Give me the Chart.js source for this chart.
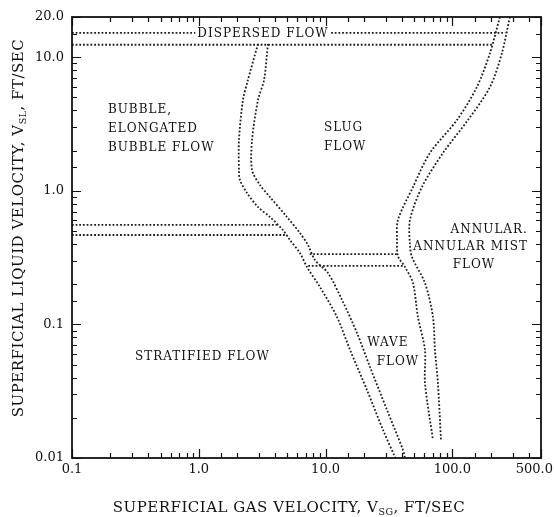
<!DOCTYPE html>
<html><head><meta charset="utf-8">
<script src="https://cdn.jsdelivr.net/npm/chart.js@4.4.0/dist/chart.umd.min.js"></script>
<style>html,body{margin:0;padding:0;background:#fff}#wrap{width:554px;height:517px}</style>
</head><body><div id="wrap"><canvas id="c" width="554" height="517"></canvas></div>
<script>
// Tick values and labels
const xMajorTicks = [0.1, 1, 10, 100, 500];
const xTickLabels = ['0.1', '1.0', '10.0', '100.0', '500.0'];
const yMajorTicks = [0.01, 0.1, 1, 10, 20];
const yTickLabels = ['0.01', '0.1', '1.0', '10.0', '20.0'];

// Boundary bands: [gas velocity, liquid velocity] pairs
const dispersedUpper = [[0.1, 15.2], [262, 15.2]];
const dispersedLower = [[0.1, 12.4], [206, 12.4]];
const stratifiedUpper = [[0.1, 0.555], [4.2, 0.555]];
const stratifiedLower = [[0.1, 0.467], [4.9, 0.467]];
const bubbleWaveLeft = [[2.93, 12.56], [2.44, 6.75], [2.23, 4.78], [2.075, 2.40], [2.075, 1.43], [2.11, 1.205], [2.40, 0.963], [2.93, 0.756], [3.64, 0.637], [4.61, 0.509], [5.24, 0.428], [6.28, 0.342], [7.13, 0.269], [9.03, 0.1905], [12.3, 0.1136], [15.6, 0.0643], [21.2, 0.0323], [28.4, 0.0162], [35.5, 0.01]];
const bubbleWaveRight = [[3.51, 12.56], [3.27, 6.75], [2.93, 4.78], [2.63, 2.40], [2.63, 1.43], [3.04, 1.105], [3.64, 0.899], [4.96, 0.637], [6.28, 0.483], [7.26, 0.393], [8.25, 0.303], [10.44, 0.243], [13.5, 0.152], [17.7, 0.0862], [22.4, 0.048], [30.5, 0.0229], [40.8, 0.01148], [42.3, 0.01]];
const slugWaveUpper = [[7.5, 0.336], [37, 0.336]];
const slugWaveLower = [[7.3, 0.274], [42, 0.274]];
const annularLeft = [[237, 20], [198, 10.75], [156, 5.98], [108.7, 3.39], [66.5, 1.92], [48.9, 1.067], [37.2, 0.605], [36.6, 0.428], [37.2, 0.325], [42.3, 0.269], [48.9, 0.204], [53.5, 0.1136], [60.8, 0.0643], [60.8, 0.0364], [70.3, 0.01364]];
const annularRight = [[284, 20], [246, 10.75], [198, 5.98], [132.7, 3.39], [84.3, 1.92], [57.5, 1.067], [46.3, 0.605], [46.3, 0.393], [48, 0.319], [60.8, 0.204], [70.3, 0.1136], [72.9, 0.0643], [76.9, 0.0364], [81.3, 0.01364]];

const bands = [dispersedUpper, dispersedLower, stratifiedUpper, stratifiedLower, bubbleWaveLeft, bubbleWaveRight, slugWaveUpper, slugWaveLower, annularLeft, annularRight];

const SERIF = '"DejaVu Serif", "Liberation Serif", serif';

const datasets = bands.map(b => ({
  data: b.map(([x, y]) => ({x, y})),
  borderColor: '#1e1e1e',
  borderWidth: 1.8,
  borderDash: [1.8, 1.9],
  pointRadius: 0,
  tension: 0.3,
  fill: false
}));

function isMajor(list, v) { return list.findIndex(m => Math.abs(m - v) / m < 1e-6); }

const decor = {
  id: 'decor',
  afterDatasetsDraw(chart) {
    const {ctx, chartArea: a, scales: {x, y}} = chart;
    ctx.save();
    ctx.strokeStyle = '#111';
    ctx.lineWidth = 1.2;
    x.ticks.forEach(t => {
      const px = Math.round(x.getPixelForValue(t.value)) + 0.5;
      const len = isMajor(xMajorTicks, t.value) >= 0 ? 9 : 5;
      ctx.beginPath();
      ctx.moveTo(px, a.bottom); ctx.lineTo(px, a.bottom - len);
      ctx.moveTo(px, a.top); ctx.lineTo(px, a.top + len);
      ctx.stroke();
    });
    y.ticks.forEach(t => {
      const py = Math.round(y.getPixelForValue(t.value)) + 0.5;
      const len = isMajor(yMajorTicks, t.value) >= 0 ? 9 : 5;
      ctx.beginPath();
      ctx.moveTo(a.left, py); ctx.lineTo(a.left + len, py);
      ctx.moveTo(a.right, py); ctx.lineTo(a.right - len, py);
      ctx.stroke();
    });
    ctx.lineWidth = 1.8;
    ctx.strokeRect(a.left, a.top, a.right - a.left, a.bottom - a.top);

    // X tick labels (last one kept inside the canvas)
    ctx.fillStyle = '#111';
    ctx.font = '13px ' + SERIF;
    ctx.textBaseline = 'middle';
    xMajorTicks.forEach((v, i) => {
      let px = x.getPixelForValue(v);
      ctx.textAlign = 'center';
      if (i === xMajorTicks.length - 1) { ctx.textAlign = 'right'; px = chart.width - 1; }
      ctx.fillText(xTickLabels[i], px, a.bottom + 12);
    });

    // Region labels
    ctx.font = '12px ' + SERIF;
    ctx.letterSpacing = '1px';
    const put = (txt, xv, yv, align) => {
      ctx.textAlign = align;
      ctx.fillText(txt, x.getPixelForValue(xv), y.getPixelForValue(yv));
    };
    {
      const px = x.getPixelForValue(3.21), py = y.getPixelForValue(14.9);
      const w = ctx.measureText('DISPERSED FLOW').width;
      ctx.fillStyle = '#fff';
      ctx.fillRect(px - w / 2 - 2, py - 7, w + 4, 14);
      ctx.fillStyle = '#111';
      put('DISPERSED FLOW', 3.21, 14.9, 'center');
    }
    put('BUBBLE,', 0.192, 4.03, 'left');
    put('ELONGATED', 0.192, 2.90, 'left');
    put('BUBBLE FLOW', 0.192, 2.08, 'left');
    put('SLUG', 9.7, 2.95, 'left');
    put('FLOW', 9.7, 2.13, 'left');
    put('ANNULAR.', 394, 0.509, 'right');
    put('ANNULAR MIST', 394, 0.379, 'right');
    put('FLOW', 148, 0.279, 'center');
    put('WAVE', 31.0, 0.0726, 'center');
    put('FLOW', 37.2, 0.0524, 'center');
    put('STRATIFIED FLOW', 0.314, 0.057, 'left');

    // Axis titles with subscripts
    ctx.letterSpacing = '0.5px';
    const drawTitle = (pre, sub, post, cx, cy, rot) => {
      ctx.save();
      ctx.translate(cx, cy);
      if (rot) ctx.rotate(-Math.PI / 2);
      const big = '15px ' + SERIF, small = '9.5px ' + SERIF;
      ctx.font = big; const w1 = ctx.measureText(pre).width; const w3 = ctx.measureText(post).width;
      ctx.font = small; const w2 = ctx.measureText(sub).width;
      let sx = -(w1 + w2 + w3) / 2;
      ctx.textAlign = 'left'; ctx.textBaseline = 'alphabetic';
      ctx.font = big; ctx.fillText(pre, sx, 5); sx += w1;
      ctx.font = small; ctx.fillText(sub, sx, 8); sx += w2;
      ctx.font = big; ctx.fillText(post, sx, 5);
      ctx.restore();
    };
    drawTitle('SUPERFICIAL GAS VELOCITY, V', 'SG', ', FT/SEC', 289, 507, false);
    drawTitle('SUPERFICIAL LIQUID VELOCITY, V', 'SL', ', FT/SEC', 18, 228, true);
    ctx.restore();
  }
};

new Chart(document.getElementById('c'), {
  type: 'line',
  data: {datasets},
  options: {
    responsive: false,
    animation: false,
    layout: {padding: {left: 0, right: 13, top: 17, bottom: 0}},
    plugins: {legend: {display: false}, tooltip: {enabled: false}, title: {display: false}},
    scales: {
      x: {
        type: 'logarithmic', min: 0.1, max: 500, position: 'bottom',
        grid: {display: false, drawTicks: false}, border: {display: false},
        ticks: {autoSkip: false, maxRotation: 0, display: false},
        afterFit: (s) => { s.height = 59; s.paddingLeft = 0; s.paddingRight = 0; }
      },
      y: {
        type: 'logarithmic', min: 0.01, max: 20,
        grid: {display: false, drawTicks: false}, border: {display: false},
        ticks: {
          autoSkip: false, padding: 8, color: '#111',
          font: {family: SERIF, size: 13},
          callback: (v) => { const i = isMajor(yMajorTicks, v); return i >= 0 ? yTickLabels[i] : ''; }
        },
        afterFit: (s) => { s.width = 72; s.paddingTop = 0; s.paddingBottom = 0; }
      }
    }
  },
  plugins: [decor]
});
</script>
</body></html>
